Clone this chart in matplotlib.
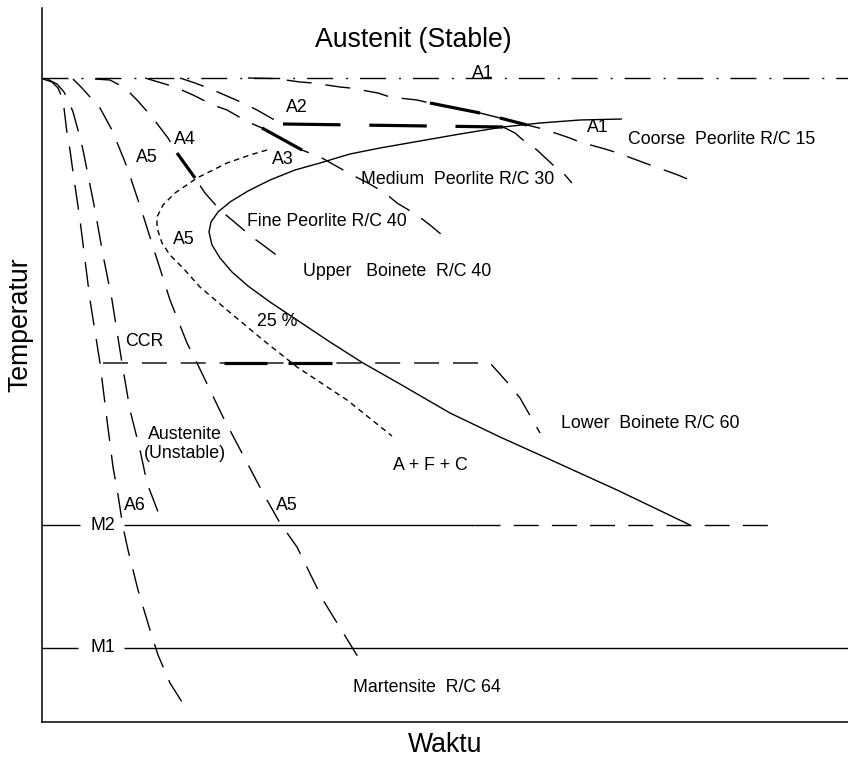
import matplotlib.pyplot as plt

plt.rcParams['font.family'] = ['Liberation Sans', 'DejaVu Sans']

# TTT / CCT schematic, traced in screen-like units (x = time, y = temperature, y axis flipped)
a1_level = 78
ccr_level = 363
m2_level = 525
m1_level = 648

# transformation start/finish curve (solid C-curve)
nose_x = [622, 580, 540, 503, 460, 420, 380, 350, 320, 295, 270, 248, 230, 218, 211, 209, 212,
          220, 232, 248, 270, 300, 330, 363, 400, 450, 500, 540, 617, 690]
nose_y = [119, 120, 123, 127, 134, 141, 148, 154, 163, 170, 180, 191, 202, 212, 222, 232, 245,
          258, 272, 286, 302, 322, 342, 363, 384, 413, 437, 455, 490, 525]

# 25 % transformation curve (fine dotted)
quarter_x = [267, 250, 227, 197, 175, 163, 157, 157, 162, 170, 183, 200, 227, 263, 297, 347, 392]
quarter_y = [150, 155, 163, 178, 193, 205, 217, 228, 243, 255, 268, 287, 310, 340, 367, 400, 436]

# cooling curves
a6_x = [43, 52, 58, 61, 64, 67, 70, 73, 80, 90, 100, 107, 113, 118, 123, 128, 138, 150, 158, 170, 182]
a6_y = [79, 82, 88, 95, 108, 133, 150, 172, 220, 300, 363, 420, 467, 495, 527, 550, 590, 630, 655, 683, 702]

a6b_x = [47, 57, 64, 69, 73, 78, 83, 87, 95, 103, 112, 122, 130, 140, 147, 160]
a6b_y = [79, 84, 92, 102, 112, 130, 150, 170, 210, 255, 300, 363, 410, 450, 483, 517]

a5_x = [73, 82, 90, 100, 112, 127, 143, 155, 170, 187, 197, 223, 263, 280, 297, 323, 358]
a5_y = [79, 88, 97, 108, 130, 167, 215, 253, 300, 343, 363, 417, 493, 523, 547, 600, 657]

a4_x = [95, 110, 125, 137, 152, 168, 177, 195, 205, 220, 232, 252, 263, 283]
a4_y = [79, 80, 88, 100, 117, 138, 153, 178, 193, 210, 220, 237, 245, 260]

a3_x = [145, 165, 177, 193, 213, 227, 248, 262, 302, 322, 352, 368, 385, 397, 417, 430, 448]
a3_y = [78, 84, 88, 95, 105, 110, 122, 128, 150, 158, 175, 183, 193, 203, 215, 225, 240]

a2_in_x = [180, 195, 208, 220, 243, 257, 278, 283]
a2_in_y = [78, 83, 88, 93, 103, 110, 122, 124]
a2_hold_x = [283, 503]
a2_hold_y = [124, 127]
a2_out_x = [503, 515, 523, 537, 553, 565, 572]
a2_out_y = [127, 133, 140, 150, 165, 175, 183]

a1_x = [248, 275, 300, 313, 340, 350, 378, 390, 417, 430, 480, 500, 527, 543, 567, 580,
        605, 618, 642, 653, 678, 692]
a1_y = [78, 78.5, 82, 83, 87, 88, 93, 97, 100, 103, 113, 118, 125, 129, 137, 142,
        149, 153, 162, 166, 175, 181]

ccr_x = [103, 490, 507, 520, 528, 540]
ccr_y = [363, 363, 382, 398, 412, 433]

DASH = (0, (18, 10))
DOT = (0, (4, 3))
DASHDOT = (0, (18.7, 9.4, 1.4, 8.6))
LW = 1.0
THICK = 2.3

fig = plt.figure(figsize=(8.48, 7.61), dpi=100)
ax = fig.add_axes([42 / 848, 39 / 761, 806 / 848, 714 / 761])
ax.set_xlim(42, 848)
ax.set_ylim(722, 8)
for side in ['top', 'right']:
    ax.spines[side].set_visible(False)
for side in ['left', 'bottom']:
    ax.spines[side].set_linewidth(1.1)
ax.set_xticks([])
ax.set_yticks([])

k = dict(color='black', solid_capstyle='butt', dash_capstyle='butt', clip_on=False)

# critical temperatures
ax.plot([42, 848], [a1_level, a1_level], lw=LW, ls=DASHDOT, **k)
ax.plot([42, 80], [m2_level, m2_level], lw=LW, **k)
ax.plot([124, 475], [m2_level, m2_level], lw=LW, **k)
ax.plot([475, 775], [m2_level, m2_level], lw=LW, ls=(0, (18, 9.5)), **k)
ax.plot([42, 78], [m1_level, m1_level], lw=LW, **k)
ax.plot([124, 848], [m1_level, m1_level], lw=LW, **k)

# transformation curves
ax.plot(nose_x, nose_y, lw=LW, **k)
ax.plot(quarter_x, quarter_y, lw=LW, ls=DOT, **k)

# cooling paths
for xs, ys in [(a6_x, a6_y), (a6b_x, a6b_y), (a5_x, a5_y), (a4_x, a4_y),
               (a3_x, a3_y), (a2_in_x, a2_in_y), (a2_out_x, a2_out_y),
               (a1_x, a1_y), (ccr_x, ccr_y)]:
    ax.plot(xs, ys, lw=LW, ls=DASH, **k)
ax.plot(a2_hold_x, a2_hold_y, lw=THICK, ls=(0, (18, 9)), **k)

# heavier strokes marking transformation on the paths
ax.plot(a4_x[6:8], a4_y[6:8], lw=THICK, **k)
ax.plot(a3_x[7:9], a3_y[7:9], lw=THICK, **k)
ax.plot([430, 480], [103, 113], lw=THICK, **k)
ax.plot([500, 527], [118, 125], lw=THICK, **k)
ax.plot([224, 267], [ccr_level, ccr_level], lw=THICK, **k)
ax.plot([288, 332], [ccr_level, ccr_level], lw=THICK, **k)

big = 19.2
small = 12.8
ax.text(413, 40, 'Austenit (Stable)', fontsize=big, ha='center', va='center')
ax.text(445, 745, 'Waktu', fontsize=big, ha='center', va='center', clip_on=False)
ax.text(20, 325, 'Temperatur', fontsize=big, ha='center', va='center', rotation=90, clip_on=False)

labels = [
    (483, 74, 'A1', 'center'),
    (297, 108, 'A2', 'center'),
    (598, 128, 'A1', 'center'),
    (628, 140, 'Coorse  Peorlite R/C 15', 'left'),
    (185, 139, 'A4', 'center'),
    (147, 158, 'A5', 'center'),
    (283, 160, 'A3', 'center'),
    (361, 180, 'Medium  Peorlite R/C 30', 'left'),
    (247, 221, 'Fine Peorlite R/C 40', 'left'),
    (184, 240, 'A5', 'center'),
    (303, 271, 'Upper   Boinete  R/C 40', 'left'),
    (277, 322, '25 %', 'center'),
    (144, 341, 'CCR', 'center'),
    (185, 444, 'Austenite\n(Unstable)', 'center'),
    (430, 465, 'A + F + C', 'center'),
    (561, 424, 'Lower  Boinete R/C 60', 'left'),
    (135, 505, 'A6', 'center'),
    (287, 505, 'A5', 'center'),
    (103, 525, 'M2', 'center'),
    (103, 648, 'M1', 'center'),
    (353, 688, 'Martensite  R/C 64', 'left'),
]
for x, y, s, ha in labels:
    ax.text(x, y, s, fontsize=small, ha=ha, va='center', linespacing=1.2)

fig.savefig('out.png', dpi=100)
